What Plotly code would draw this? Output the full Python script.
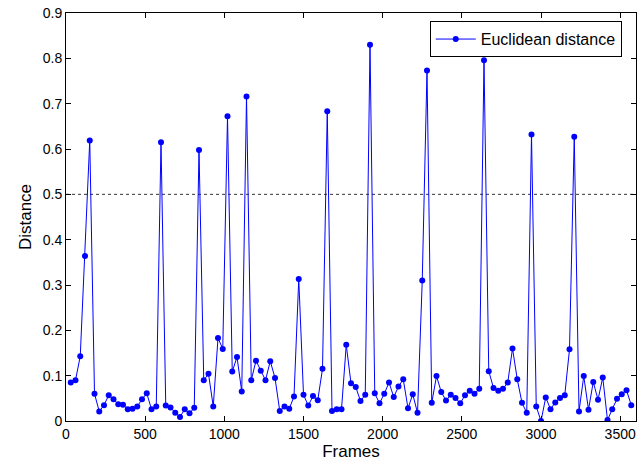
import plotly.graph_objects as go

frames = [30, 60, 90, 120, 150, 180, 210, 240, 270, 300,
          330, 360, 390, 420, 450, 480, 510, 540, 570, 600,
          630, 660, 690, 720, 750, 780, 810, 840, 870, 900,
          930, 960, 990, 1020, 1050, 1080, 1110, 1140, 1170, 1200,
          1230, 1260, 1290, 1320, 1350, 1380, 1410, 1440, 1470, 1500,
          1530, 1560, 1590, 1620, 1650, 1680, 1710, 1740, 1770, 1800,
          1830, 1860, 1890, 1920, 1950, 1980, 2010, 2040, 2070, 2100,
          2130, 2160, 2190, 2220, 2250, 2280, 2310, 2340, 2370, 2400,
          2430, 2460, 2490, 2520, 2550, 2580, 2610, 2640, 2670, 2700,
          2730, 2760, 2790, 2820, 2850, 2880, 2910, 2940, 2970, 3000,
          3030, 3060, 3090, 3120, 3150, 3180, 3210, 3240, 3270, 3300,
          3330, 3360, 3390, 3420, 3450, 3480, 3510, 3540, 3570]

distance = [0.085, 0.090, 0.143, 0.364, 0.619, 0.060, 0.021, 0.035, 0.057, 0.048,
            0.037, 0.036, 0.026, 0.027, 0.032, 0.048, 0.061, 0.026, 0.032, 0.615,
            0.034, 0.030, 0.018, 0.009, 0.026, 0.017, 0.029, 0.598, 0.090, 0.104,
            0.032, 0.183, 0.159, 0.672, 0.109, 0.141, 0.065, 0.716, 0.090, 0.133,
            0.111, 0.090, 0.132, 0.095, 0.022, 0.032, 0.027, 0.054, 0.313, 0.058,
            0.034, 0.055, 0.046, 0.115, 0.683, 0.022, 0.026, 0.026, 0.168, 0.083,
            0.075, 0.044, 0.058, 0.830, 0.061, 0.039, 0.060, 0.085, 0.053, 0.076,
            0.092, 0.028, 0.059, 0.018, 0.310, 0.773, 0.040, 0.099, 0.064, 0.045,
            0.058, 0.051, 0.039, 0.057, 0.067, 0.060, 0.071, 0.796, 0.110, 0.073,
            0.067, 0.071, 0.085, 0.160, 0.092, 0.040, 0.018, 0.632, 0.032, 0.000,
            0.052, 0.026, 0.041, 0.051, 0.057, 0.158, 0.627, 0.021, 0.099, 0.025,
            0.086, 0.047, 0.096, 0.002, 0.026, 0.049, 0.059, 0.068, 0.035]

threshold = 0.5
x_range = [0, 3600]
y_range = [0, 0.9]
x_ticks = [0, 500, 1000, 1500, 2000, 2500, 3000, 3500]
y_ticks = [0, 0.1, 0.2, 0.3, 0.4, 0.5, 0.6, 0.7, 0.8, 0.9]
y_tick_labels = ["0", "0.1", "0.2", "0.3", "0.4", "0.5", "0.6", "0.7", "0.8", "0.9"]

fig = go.Figure()
fig.add_trace(go.Scatter(
    x=x_range, y=[threshold, threshold], mode="lines",
    line=dict(color="#333333", width=1, dash="dot"),
    showlegend=False, hoverinfo="skip"))
fig.add_trace(go.Scatter(
    x=frames, y=distance, mode="lines+markers",
    name="Euclidean distance",
    line=dict(color="#0000ff", width=1),
    marker=dict(color="#0000ff", size=6)))

axis_common = dict(showline=True, linecolor="black", linewidth=1, mirror="allticks",
                   ticks="inside", ticklen=5, tickcolor="black", showgrid=False,
                   zeroline=False, tickfont=dict(family="Liberation Sans, Arial", size=14, color="black"))

fig.update_layout(
    width=640, height=469,
    margin=dict(l=66, r=4, t=13, b=48),
    paper_bgcolor="white", plot_bgcolor="white",
    font=dict(family="Liberation Sans, Arial", color="black"),
    xaxis=dict(range=x_range, tickvals=x_ticks,
               title=dict(text="Frames", font=dict(size=17), standoff=4), **axis_common),
    yaxis=dict(range=y_range, tickvals=y_ticks, ticktext=y_tick_labels,
               title=dict(text="Distance", font=dict(size=17), standoff=6), **axis_common),
    legend=dict(x=0.975, y=0.98, xanchor="right", yanchor="top",
                bordercolor="black", borderwidth=1, bgcolor="white",
                font=dict(size=16, family="Liberation Sans, Arial"),
                itemwidth=40, tracegroupgap=0),
    showlegend=True,
)

fig.write_html("out.html", config={"displayModeBar": False},
               post_script="document.body.style.margin='0';document.body.style.overflow='hidden';")
